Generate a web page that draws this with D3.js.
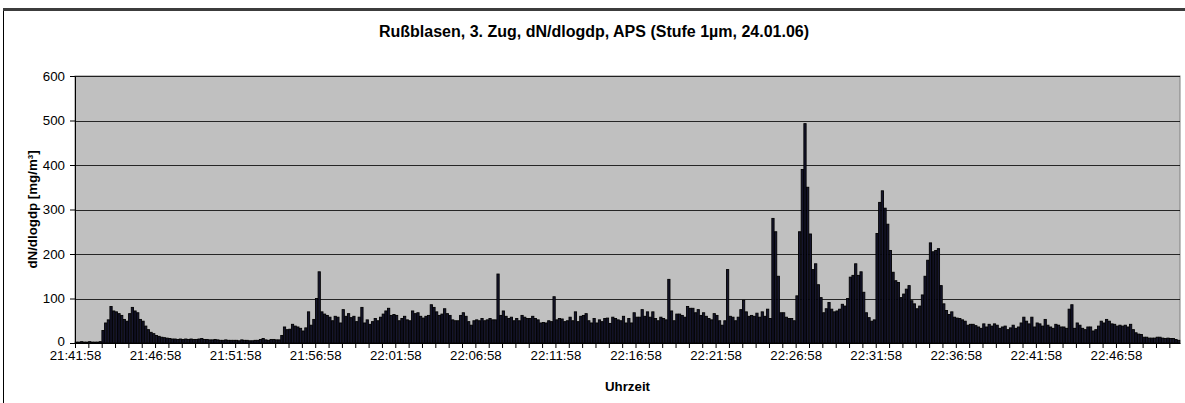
<!DOCTYPE html>
<html>
<head>
<meta charset="utf-8">
<script src="https://cdn.jsdelivr.net/npm/d3@7"></script>
<style>
  body { margin: 0; background: #fff; }
  svg { display: block; }
  text { font-family: "Liberation Sans", Arial, sans-serif; }
</style>
</head>
<body>
<svg id="chart" width="1185" height="403"></svg>
<script>
// APS stage 1 µm, one sample every 10 s starting at 21:41:58
const startTime = "21:41:58";
const sampleSeconds = 10;

const dNdlogdp = [
  2,2,3,2,2,3,2,2,2,3,
  28,45,52,82,72,70,66,62,53,49,
  66,80,72,68,53,49,38,30,24,21,
  17,15,13,12,11,10,9,9,8,9,
  8,9,8,9,8,8,9,10,8,8,
  7,7,8,7,6,6,7,6,6,6,
  6,5,7,6,6,5,5,6,6,8,
  10,7,6,8,8,7,7,17,36,30,
  31,42,38,36,33,27,34,70,40,53,
  100,160,70,65,62,58,50,60,58,45,
  75,60,66,57,60,48,58,80,45,52,
  42,48,55,50,58,65,72,78,62,64,
  62,50,55,60,52,50,72,66,68,60,
  56,60,62,86,80,70,62,65,77,66,
  62,52,50,50,62,68,60,48,40,50,
  52,50,55,50,52,55,52,52,155,62,
  72,60,55,58,50,55,50,62,58,55,
  55,60,55,52,45,46,45,50,48,104,
  52,55,54,48,50,58,50,70,48,60,
  62,66,50,45,55,45,52,48,55,56,
  44,58,55,52,50,60,45,55,45,68,
  58,58,75,60,70,58,70,55,50,58,
  55,52,143,72,50,65,65,62,58,82,
  78,78,68,75,62,68,60,55,52,66,
  62,50,40,50,165,60,58,50,58,75,
  96,70,60,62,60,67,58,70,60,76,
  55,280,250,150,68,68,58,55,55,50,
  106,250,390,493,350,245,165,178,131,102,
  68,77,91,76,70,72,76,87,83,100,
  148,152,178,152,160,114,68,57,49,52,
  246,316,342,303,267,208,159,140,136,102,
  110,121,129,95,88,77,83,108,150,186,
  225,205,208,212,129,88,73,64,70,58,
  56,55,52,49,40,42,42,39,36,33,
  43,36,42,38,43,40,33,36,38,30,
  34,40,33,36,45,58,49,43,58,36,
  45,43,38,53,40,36,33,42,40,36,
  36,33,76,86,33,45,40,33,30,36,
  36,27,30,38,49,45,53,49,43,42,
  38,40,38,40,36,42,30,23,20,19,
  13,13,11,11,11,13,13,11,10,11,
  10,10,8,6
];

const timeLabels = [
  "21:41:58","21:46:58","21:51:58","21:56:58","22:01:58","22:06:58","22:11:58",
  "22:16:58","22:21:58","22:26:58","22:31:58","22:36:58","22:41:58","22:46:58"
];
const yTicks = [0, 100, 200, 300, 400, 500, 600];

const titleText = "Rußblasen, 3. Zug, dN/dlogdp, APS (Stufe 1µm, 24.01.06)";
const yTitle = "dN/dlogdp [mg/m³]";
const xTitle = "Uhrzeit";

// sample clock times as category keys
const [h0, m0, s0] = startTime.split(":").map(Number);
const categories = dNdlogdp.map((_, i) => {
  const t = h0 * 3600 + m0 * 60 + s0 + i * sampleSeconds;
  const p = v => String(v).padStart(2, "0");
  return `${p(Math.floor(t / 3600) % 24)}:${p(Math.floor(t / 60) % 60)}:${p(t % 60)}`;
});

const W = 1185, H = 403;
const plot = { left: 75, right: 1180, top: 76, bottom: 343 };
const n = categories.length;
const labelEvery = 30, tickEvery = 5;
const font = '"Liberation Sans", Arial, sans-serif';

const svg = d3.select("#chart");

// outer chart frame
svg.append("rect").attr("x", 0).attr("y", 0).attr("width", W).attr("height", H).attr("fill", "#fff");
svg.append("line").attr("x1", 3.5).attr("x2", 3.5).attr("y1", 9).attr("y2", H).attr("stroke", "#000").attr("stroke-width", 1);
svg.append("line").attr("x1", 3).attr("x2", W).attr("y1", 9.5).attr("y2", 9.5).attr("stroke", "#3c3c3c").attr("stroke-width", 3);

const y = d3.scaleLinear().domain([0, 600]).range([plot.bottom, plot.top]);
const x = d3.scaleBand().domain(categories).range([plot.left, plot.right])
  .paddingInner(0.16).paddingOuter(0.08);
const xb = d3.scaleLinear().domain([0, n]).range([plot.left, plot.right]);

// plot area
svg.append("rect")
  .attr("x", plot.left).attr("y", plot.top)
  .attr("width", plot.right - plot.left).attr("height", plot.bottom - plot.top)
  .attr("fill", "#c0c0c0").attr("stroke", "#808080").attr("stroke-width", 1);

// horizontal gridlines
svg.append("g").selectAll("line").data(yTicks.filter(v => v > 0)).join("line")
  .attr("x1", plot.left).attr("x2", plot.right)
  .attr("y1", d => Math.round(y(d)) + 0.5).attr("y2", d => Math.round(y(d)) + 0.5)
  .attr("stroke", "#000").attr("stroke-width", 1).attr("opacity", 0.8);

// bars
svg.append("g").selectAll("rect").data(dNdlogdp).join("rect")
  .attr("x", (d, i) => x(categories[i]))
  .attr("width", x.bandwidth())
  .attr("y", d => y(d))
  .attr("height", d => plot.bottom - y(d))
  .attr("fill", "#16162e")
  .attr("stroke", "#000")
  .attr("stroke-width", 0.9);

// y axis
const yAxis = svg.append("g")
  .attr("transform", `translate(${plot.left},0)`)
  .call(d3.axisLeft(y).tickValues(yTicks).tickSize(5).tickSizeOuter(0).tickPadding(5));
yAxis.select(".domain").attr("stroke", "#000");
yAxis.selectAll("text").attr("font-size", 13.3).attr("fill", "#000").style("font-family", font)
  .attr("dy", d => d === 0 ? "0.16em" : "0.32em");

// x axis: minor ticks every 5 samples, labels every 30
const xAxis = svg.append("g")
  .attr("transform", `translate(0,${plot.bottom})`)
  .call(d3.axisBottom(xb)
    .tickValues(d3.range(0, n + 1, tickEvery))
    .tickFormat(d => d % labelEvery === 0 && timeLabels[d / labelEvery] ? timeLabels[d / labelEvery] : "")
    .tickSize(5).tickSizeOuter(0).tickPadding(3));
xAxis.select(".domain").attr("stroke", "#000");
xAxis.selectAll("text").attr("font-size", 13.3).attr("fill", "#000").style("font-family", font);

// titles
svg.append("text")
  .attr("x", 594).attr("y", 37)
  .attr("text-anchor", "middle")
  .attr("font-size", 16).attr("font-weight", "bold")
  .text(titleText);

svg.append("text")
  .attr("transform", `translate(37,${(plot.top + plot.bottom) / 2}) rotate(-90)`)
  .attr("text-anchor", "middle")
  .attr("font-size", 13.3).attr("font-weight", "bold")
  .text(yTitle);

svg.append("text")
  .attr("x", (plot.left + plot.right) / 2).attr("y", 391)
  .attr("text-anchor", "middle")
  .attr("font-size", 13.3).attr("font-weight", "bold")
  .text(xTitle);
</script>
</body>
</html>
